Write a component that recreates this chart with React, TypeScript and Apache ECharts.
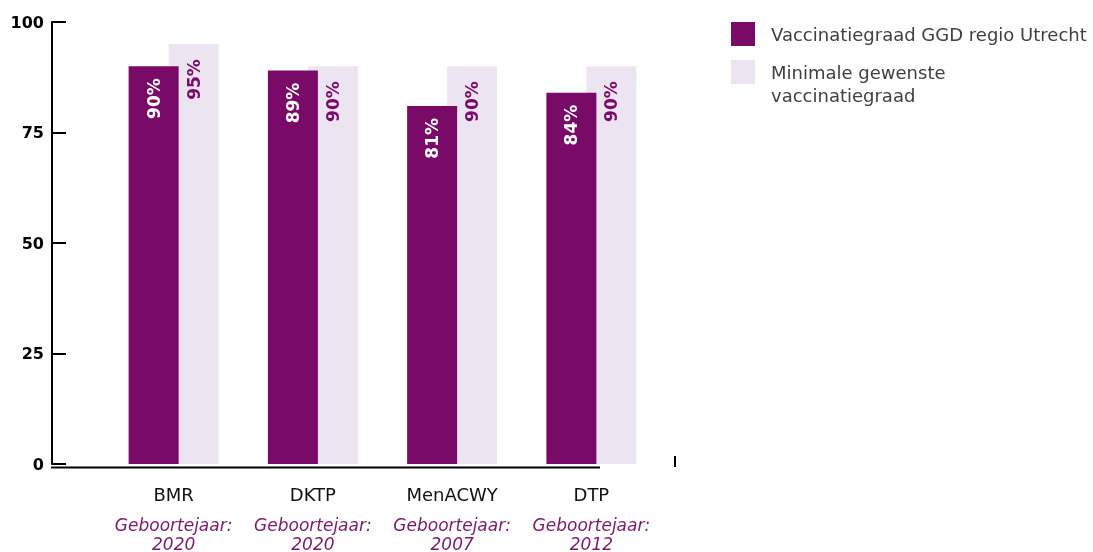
import React, { useEffect, useRef } from "react";
import * as echarts from "echarts";

const categories = ["BMR", "DKTP", "MenACWY", "DTP"];
const birthYears = ["2020", "2020", "2007", "2012"];
const regionValues = [90, 89, 81, 84];
const minimumValues = [95, 90, 90, 90];
const yTicks = [0, 25, 50, 75, 100];

const seriesNames = ["Vaccinatiegraad GGD regio Utrecht", "Minimale gewenste vaccinatiegraad"];

const PURPLE = "#790a67";
const LIGHT = "#ede4f1";
const FONT = "DejaVu Sans";

export default function App() {
  const ref = useRef<HTMLDivElement>(null);
  useEffect(() => {
    if (!ref.current) return;
    const chart = echarts.init(ref.current, undefined, { renderer: "svg" });
    const barLabel = (color: string, distance: number) => ({
      show: true,
      position: "insideTop",
      rotate: 90,
      align: "right",
      verticalAlign: "middle",
      distance,
      formatter: "{c}%",
      color,
      fontFamily: FONT,
      fontWeight: "bold",
      fontSize: 17,
    });
    chart.setOption({
      animation: false,
      textStyle: { fontFamily: FONT },
      grid: { left: 104, width: 557, top: 22, height: 444.5, containLabel: false },
      legend: [
        {
          data: [seriesNames[0]],
          orient: "vertical",
          left: 726,
          top: 17,
          itemWidth: 24,
          itemHeight: 24,
          icon: "rect",
          textStyle: { fontFamily: FONT, fontSize: 18, color: "#404040", padding: [0, 0, 0, 11] },
          selectedMode: false,
        },
        {
          data: [seriesNames[1]],
          orient: "vertical",
          left: 726,
          top: 32.5,
          itemWidth: 24,
          itemHeight: 24,
          icon: "rect",
          formatter: () => "\nMinimale gewenste\nvaccinatiegraad",
          textStyle: {
            fontFamily: FONT,
            fontSize: 18,
            lineHeight: 23,
            color: "#404040",
            padding: [0, 0, 0, 11],
          },
          selectedMode: false,
        },
      ],
      xAxis: {
        type: "category",
        data: categories,
        axisLine: { show: false },
        axisTick: { show: false },
        axisLabel: {
          margin: 10,
          interval: 0,
          formatter: (v: string, i: number) =>
            `{name|${v}}\n{sub|Geboortejaar:}\n{sub|${birthYears[i]}}`,
          rich: {
            name: { fontFamily: FONT, fontSize: 18, color: "#111111", lineHeight: 41 },
            sub: {
              fontFamily: FONT,
              fontSize: 17,
              fontStyle: "italic",
              color: "#7a1a6e",
              lineHeight: 19,
            },
          },
        },
      },
      yAxis: {
        type: "value",
        min: 0,
        max: 100,
        interval: 25,
        offset: 52,
        axisLine: { show: true, lineStyle: { color: "#000", width: 2 } },
        axisTick: { show: true, inside: true, length: 14, lineStyle: { color: "#000", width: 2 } },
        splitLine: { show: false },
        axisLabel: {
          margin: 8,
          color: "#000",
          fontFamily: FONT,
          fontWeight: "bold",
          fontSize: 16,
          formatter: (v: number) => (yTicks.includes(v) ? String(v) : ""),
        },
      },
      graphic: [
        {
          type: "line",
          shape: { x1: 51, y1: 467.5, x2: 600, y2: 467.5 },
          style: { stroke: "#000", lineWidth: 2 },
          z: 0,
        },
        {
          type: "line",
          shape: { x1: 675, y1: 456, x2: 675, y2: 467 },
          style: { stroke: "#000", lineWidth: 2 },
          z: 0,
        },
      ],
      series: [
        {
          name: seriesNames[0],
          type: "bar",
          data: regionValues,
          barWidth: 50,
          barGap: "-20%",
          z: 3,
          itemStyle: { color: PURPLE },
          label: barLabel("#ffffff", 12),
        },
        {
          name: seriesNames[1],
          type: "bar",
          data: minimumValues,
          barWidth: 50,
          barGap: "-20%",
          z: 2,
          itemStyle: { color: LIGHT },
          label: barLabel(PURPLE, 15),
        },
      ],
    });
    return () => chart.dispose();
  }, []);
  return (
    <div
      ref={ref}
      style={{ position: "fixed", left: 0, top: 0, width: 1093, height: 552 }}
    />
  );
}
